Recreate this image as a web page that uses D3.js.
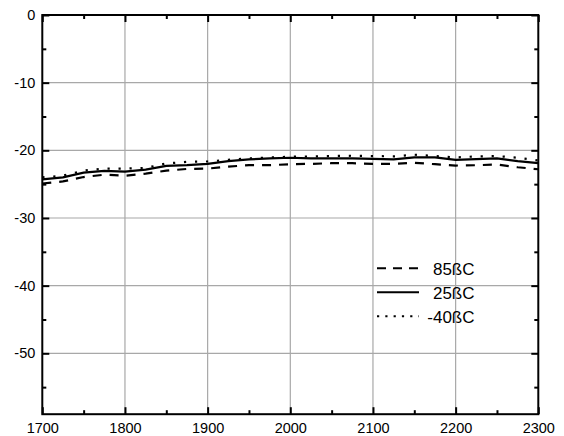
<!DOCTYPE html>
<html><head><meta charset="utf-8">
<script src="https://cdn.jsdelivr.net/npm/d3@7"></script>
<style>
html,body{margin:0;padding:0;background:#fff;}
svg{display:block;font-family:"Liberation Sans",Arial,sans-serif;}
</style></head>
<body>
<svg id="chart" width="564" height="436"></svg>
<script>
const freq = [1700,1725,1750,1775,1800,1825,1850,1875,1900,1925,1950,1975,2000,2025,2050,2075,2100,2125,2150,2175,2200,2225,2250,2275,2300];
const s85 = [-24.9,-24.6,-23.95,-23.6,-23.75,-23.45,-23.0,-22.75,-22.7,-22.4,-22.2,-22.2,-22.05,-22.0,-21.9,-21.9,-22.0,-22.0,-21.85,-22.05,-22.25,-22.2,-22.1,-22.5,-22.8];
const s25 = [-24.3,-24.0,-23.3,-23.05,-23.15,-22.85,-22.3,-22.2,-22.0,-21.6,-21.35,-21.2,-21.1,-21.2,-21.2,-21.2,-21.25,-21.35,-21.05,-21.05,-21.4,-21.3,-21.2,-21.6,-21.9];
const sm40 = [-24.0,-23.75,-23.0,-22.7,-22.7,-22.6,-21.95,-21.7,-21.65,-21.4,-21.2,-21.05,-20.95,-20.9,-20.85,-20.8,-20.85,-20.9,-20.65,-20.85,-21.05,-20.9,-20.85,-21.1,-21.5];
const seriesNames = ["85ßC","25ßC","-40ßC"];
const xMajor = [1700,1800,1900,2000,2100,2200,2300];
const xMinor = [1750,1850,1950,2050,2150,2250];
const yMajor = [0,-10,-20,-30,-40,-50];
const yMinor = [-5,-15,-25,-35,-45,-55];

const L = 42.3, R = 538.3, T = 15, B = 414.2;
const svg = d3.select("#chart");
const x = d3.scaleLinear().domain([1700,2300]).range([L,R]);
const y = d3.scaleLinear().domain([-59,0]).range([B,T]);

// gridlines
const grid = svg.append("g").attr("stroke","#a8a8a8").attr("stroke-width",1.2);
grid.selectAll("line.v").data(xMajor.slice(1,-1)).join("line")
  .attr("x1",d=>x(d)).attr("x2",d=>x(d)).attr("y1",T).attr("y2",B);
grid.selectAll("line.h").data(yMajor.slice(1)).join("line")
  .attr("y1",d=>y(d)).attr("y2",d=>y(d)).attr("x1",L).attr("x2",R);

// series
const line = d3.line().x((d,i)=>x(freq[i])).y(d=>y(d));
const styles = [
  {data:s85, dash:"9,8", w:2.2},
  {data:s25, dash:null, w:2.2},
  {data:sm40, dash:"2.2,8.8", w:2.2}
];
styles.forEach(s=>{
  svg.append("path").datum(s.data).attr("d",line)
    .attr("fill","none").attr("stroke","#000").attr("stroke-width",s.w)
    .attr("stroke-dasharray",s.dash);
});

// axes (ticks inward)
function addAxis(axis, tr){
  const g = svg.append("g").attr("transform",tr).call(axis);
  g.select(".domain").remove();
  g.selectAll("line").attr("stroke","#000").attr("stroke-width",2);
  return g;
}
const fmt = d => String(d);
const fs = "14.5px";
const gl = addAxis(d3.axisLeft(y).tickValues(yMajor).tickSize(-7).tickPadding(7).tickFormat(fmt), `translate(${L},0)`);
gl.selectAll("text").attr("font-size",fs).attr("fill","#000").attr("font-family","Liberation Sans, Arial, sans-serif");
addAxis(d3.axisLeft(y).tickValues(yMinor).tickSize(-4).tickFormat(""), `translate(${L},0)`);
addAxis(d3.axisRight(y).tickValues(yMajor).tickSize(-7).tickFormat(""), `translate(${R},0)`);
addAxis(d3.axisRight(y).tickValues(yMinor).tickSize(-4).tickFormat(""), `translate(${R},0)`);
const gb = addAxis(d3.axisBottom(x).tickValues(xMajor).tickSize(-7).tickPadding(9).tickFormat(fmt), `translate(0,${B})`);
gb.selectAll("text").attr("font-size",fs).attr("fill","#000").attr("font-family","Liberation Sans, Arial, sans-serif");
addAxis(d3.axisBottom(x).tickValues(xMinor).tickSize(-4).tickFormat(""), `translate(0,${B})`);
addAxis(d3.axisTop(x).tickValues(xMajor).tickSize(-7).tickFormat(""), `translate(0,${T})`);
addAxis(d3.axisTop(x).tickValues(xMinor).tickSize(-4).tickFormat(""), `translate(0,${T})`);

// frame
svg.append("rect").attr("x",L).attr("y",T).attr("width",R-L).attr("height",B-T)
  .attr("fill","none").attr("stroke","#000").attr("stroke-width",2);

// legend
const legY = [268.3, 292.3, 316.3];
const legDash = ["9,7", null, "2.2,6.1"];
seriesNames.forEach((name,i)=>{
  svg.append("line").attr("x1",377).attr("x2",419).attr("y1",legY[i]).attr("y2",legY[i])
    .attr("stroke","#000").attr("stroke-width",2).attr("stroke-dasharray",legDash[i]);
  svg.append("text").attr("x",474.5).attr("y",legY[i]+6.5).attr("text-anchor","end")
    .attr("font-size","17px").attr("fill","#000").text(name);
});
</script>
</body></html>
